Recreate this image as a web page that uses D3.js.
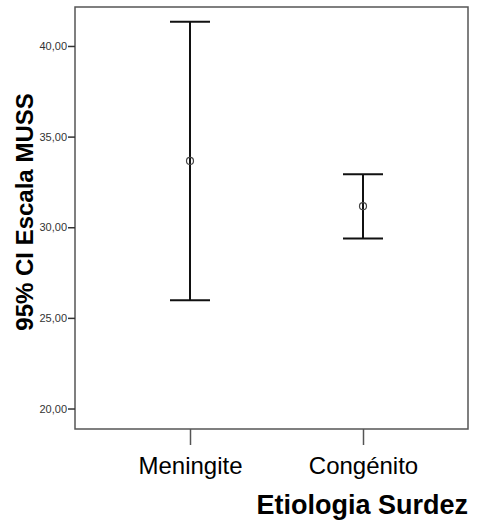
<!DOCTYPE html>
<html>
<head>
<meta charset="utf-8">
<script src="https://cdn.jsdelivr.net/npm/d3@7"></script>
<style>
  body { margin: 0; background: #fff; }
  text { font-family: "Liberation Sans", Arial, sans-serif; }
</style>
</head>
<body>
<svg></svg>
<script>
// data
const categories = ["Meningite", "Congénito"];
const means = [33.66, 31.16];
const lower = [25.97, 29.38];
const upper = [41.34, 32.93];
const yTicks = [20, 25, 30, 35, 40];

var w = 483;
var h = 524;
const margin = { top: 7, bottom: 95, left: 75, right: 15 };
const innerWidth = w - margin.left - margin.right;
const innerHeight = h - margin.top - margin.bottom;

let svg = d3.select("svg")
  .attr("width", w)
  .attr("height", h);
const g = svg.append("g")
  .attr("transform", `translate(${margin.left}, ${margin.top})`);

let xScale = d3.scalePoint()
  .domain(categories)
  .range([115, 288]);
let yScale = d3.scaleLinear()
  .domain([18.87, 42.15])
  .range([innerHeight, 0]);

// frame
g.append("rect")
  .attr("x", 0).attr("y", 0)
  .attr("width", innerWidth).attr("height", innerHeight)
  .attr("fill", "none")
  .attr("stroke", "#555")
  .attr("stroke-width", 1.5);

// y axis
let yAxis = d3.axisLeft(yScale)
  .tickValues(yTicks)
  .tickSize(7)
  .tickFormat(d => d3.format(".2f")(d).replace(".", ","));
let yAxisG = g.append("g").call(yAxis);
yAxisG.select(".domain").remove();
yAxisG.selectAll(".tick line").attr("stroke", "#333").attr("stroke-width", 1.5);
yAxisG.selectAll(".tick text")
  .attr("x", -8)
  .attr("font-size", 11)
  .attr("fill", "#333")
  .style("font-family", "Liberation Sans, Arial, sans-serif");

// x axis
let xAxis = d3.axisBottom(xScale).tickSize(16).tickPadding(12);
let xAxisG = g.append("g")
  .attr("transform", `translate(0,${innerHeight})`)
  .call(xAxis);
xAxisG.select(".domain").remove();
xAxisG.selectAll(".tick line").attr("stroke", "#555").attr("stroke-width", 1.5);
xAxisG.selectAll(".tick text")
  .attr("font-size", 24)
  .attr("fill", "#000")
  .style("font-family", "Liberation Sans, Arial, sans-serif");

// error bars
const capHalf = 20;
const bars = g.selectAll(".bar")
  .data(categories)
  .enter()
  .append("g")
  .attr("class", "bar");

bars.append("line")
  .attr("x1", d => xScale(d)).attr("x2", d => xScale(d))
  .attr("y1", (d, i) => yScale(upper[i]))
  .attr("y2", (d, i) => yScale(lower[i]))
  .attr("stroke", "#111").attr("stroke-width", 2);
bars.append("line")
  .attr("x1", d => xScale(d) - capHalf).attr("x2", d => xScale(d) + capHalf)
  .attr("y1", (d, i) => yScale(upper[i]))
  .attr("y2", (d, i) => yScale(upper[i]))
  .attr("stroke", "#111").attr("stroke-width", 2);
bars.append("line")
  .attr("x1", d => xScale(d) - capHalf).attr("x2", d => xScale(d) + capHalf)
  .attr("y1", (d, i) => yScale(lower[i]))
  .attr("y2", (d, i) => yScale(lower[i]))
  .attr("stroke", "#111").attr("stroke-width", 2);
bars.append("circle")
  .attr("cx", d => xScale(d))
  .attr("cy", (d, i) => yScale(means[i]))
  .attr("r", 3.5)
  .attr("fill", "none")
  .attr("stroke", "#444")
  .attr("stroke-width", 1.2);

// titles
svg.append("text")
  .text("Etiologia Surdez")
  .attr("x", 468)
  .attr("y", 514)
  .attr("text-anchor", "end")
  .attr("font-size", 27)
  .attr("font-weight", "bold");
svg.append("text")
  .attr("transform", "translate(33,212)rotate(-90)")
  .attr("text-anchor", "middle")
  .attr("font-size", 24)
  .attr("font-weight", "bold")
  .text("95% CI Escala MUSS");
</script>
</body>
</html>
